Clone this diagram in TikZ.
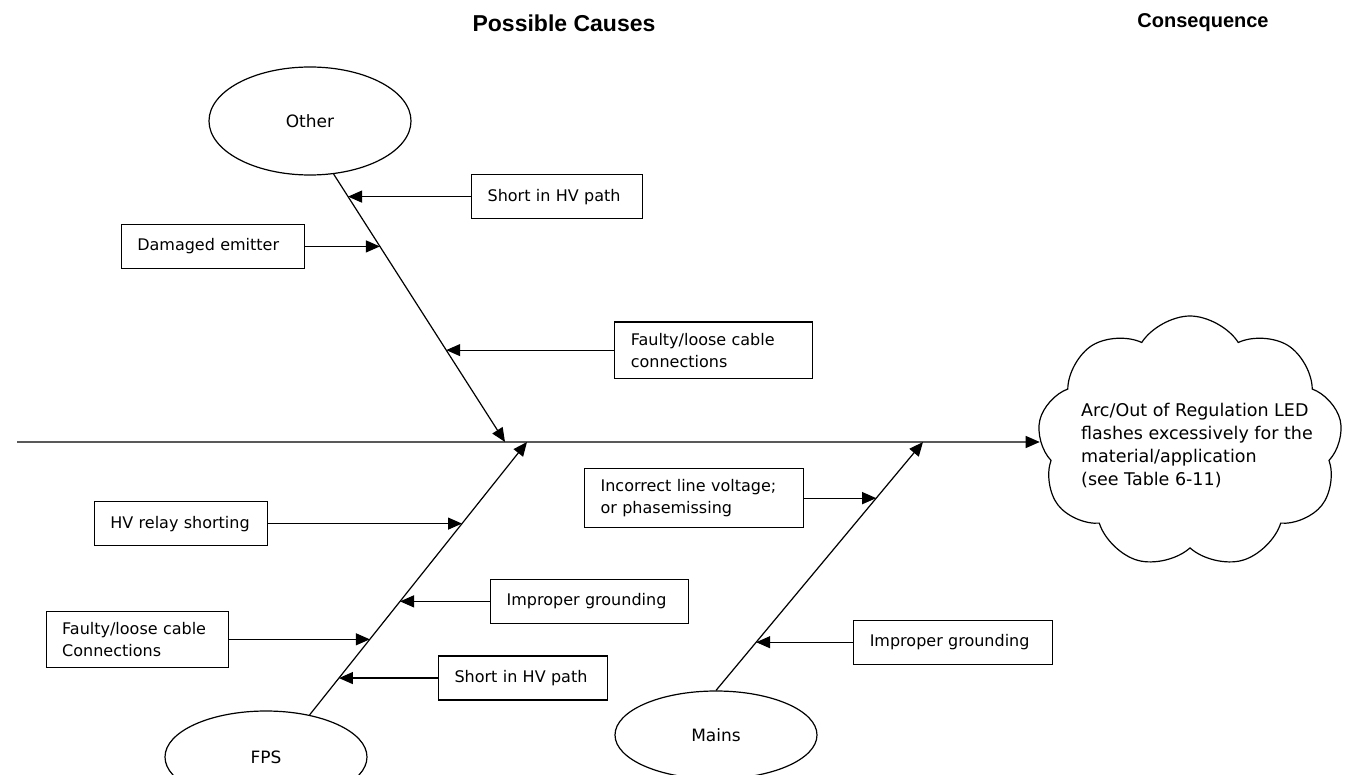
\documentclass[tikz,border=0pt]{standalone}
\usepackage{fontspec}
\setmainfont{DejaVu Sans}
\newfontfamily\headfont{Liberation Sans}
\usetikzlibrary{positioning,calc,arrows.meta,shapes.geometric,shapes.symbols}

\begin{document}
\begin{tikzpicture}[x=1pt,y=-1pt,
    cause/.style={draw, line width=1.2pt, text width=#1, align=left, inner xsep=16pt, inner ysep=11pt,
      minimum height=44pt, font=\fontsize{16}{22}\selectfont},
    group/.style={draw, ellipse, line width=1.2pt, minimum width=202pt, minimum height=#1,
      font=\fontsize{17}{20}\selectfont},
    arr/.style={line width=1.2pt, -{Triangle[length=14pt,width=12pt]}},
    head/.style={font=\headfont\bfseries\fontsize{#1}{26}\selectfont}]

    \useasboundingbox (0,0) rectangle (1349,775);
    \clip (0,0) rectangle (1349,775);

    % headings
    \node[head=23] (hcause) at (564,23) {Possible Causes};
    \node[head=20] (hcons) at (1203,23) {Consequence};

    % spine into the consequence cloud
    \coordinate (spine) at (17,442);
    \node[draw, cloud, cloud puffs=9, cloud puff arc=115, line width=1.2pt,
      minimum width=305pt, minimum height=252pt] (cons) at (1190,442) {};
    \node[align=left, font=\fontsize{17.5}{23}\selectfont] (constext) at (1197,446)
      {Arc/Out of Regulation LED\\flashes excessively for the\\material/application\\(see Table 6-11)};
    \draw[arr] (spine) -- (cons.west);

    % the three bones
    \node[group=108pt] (oth) at (310,121) {Other};
    \node[group=92pt] (fps) at (266,757) {FPS};
    \node[group=88pt] (mains) at (716,735) {Mains};
    \coordinate (oend) at (505,442);
    \coordinate (fend) at (527,442);
    \coordinate (mend) at (923,442);
    \draw[arr] (oth.-66) -- (oend);
    \draw[arr] (fps.44) -- (fend);
    \draw[arr] (mains.north) -- (mend);

    % Other
    \coordinate (o1) at ($(oth.-66)!0.084!(oend)$);
    \coordinate (o2) at ($(oth.-66)!0.270!(oend)$);
    \coordinate (o3) at ($(oth.-66)!0.657!(oend)$);
    \node[cause=139pt, right=123pt of o1] (o1box) {Short in HV path};
    \node[cause=151pt, left=75pt of o2] (o2box) {Damaged emitter};
    \node[cause=166pt, right=168pt of o3] (o3box) {Faulty/loose cable\\connections};
    \foreach \c in {o1,o2,o3} \draw[arr] (\c box) -- (\c);

    % FPS
    \coordinate (f1) at ($(fps.44)!0.701!(fend)$);
    \coordinate (f2) at ($(fps.44)!0.416!(fend)$);
    \coordinate (f3) at ($(fps.44)!0.277!(fend)$);
    \coordinate (f4) at ($(fps.44)!0.135!(fend)$);
    \node[cause=141pt, left=194pt of f1] (f1box) {HV relay shorting};
    \node[cause=166pt, right=90pt of f2] (f2box) {Improper grounding};
    \node[cause=150pt, left=141pt of f3] (f3box) {Faulty/loose cable\\Connections};
    \node[cause=137pt, right=99pt of f4] (f4box) {Short in HV path};
    \foreach \c in {f1,f2,f3,f4} \draw[arr] (\c box) -- (\c);

    % Mains
    \coordinate (m1) at ($(mains.north)!0.774!(mend)$);
    \coordinate (m2) at ($(mains.north)!0.194!(mend)$);
    \node[cause=187pt, left=72pt of m1] (m1box) {Incorrect line voltage;\\or phasemissing};
    \node[cause=167pt, right=97pt of m2] (m2box) {Improper grounding};
    \foreach \c in {m1,m2} \draw[arr] (\c box) -- (\c);
\end{tikzpicture}
\end{document}
